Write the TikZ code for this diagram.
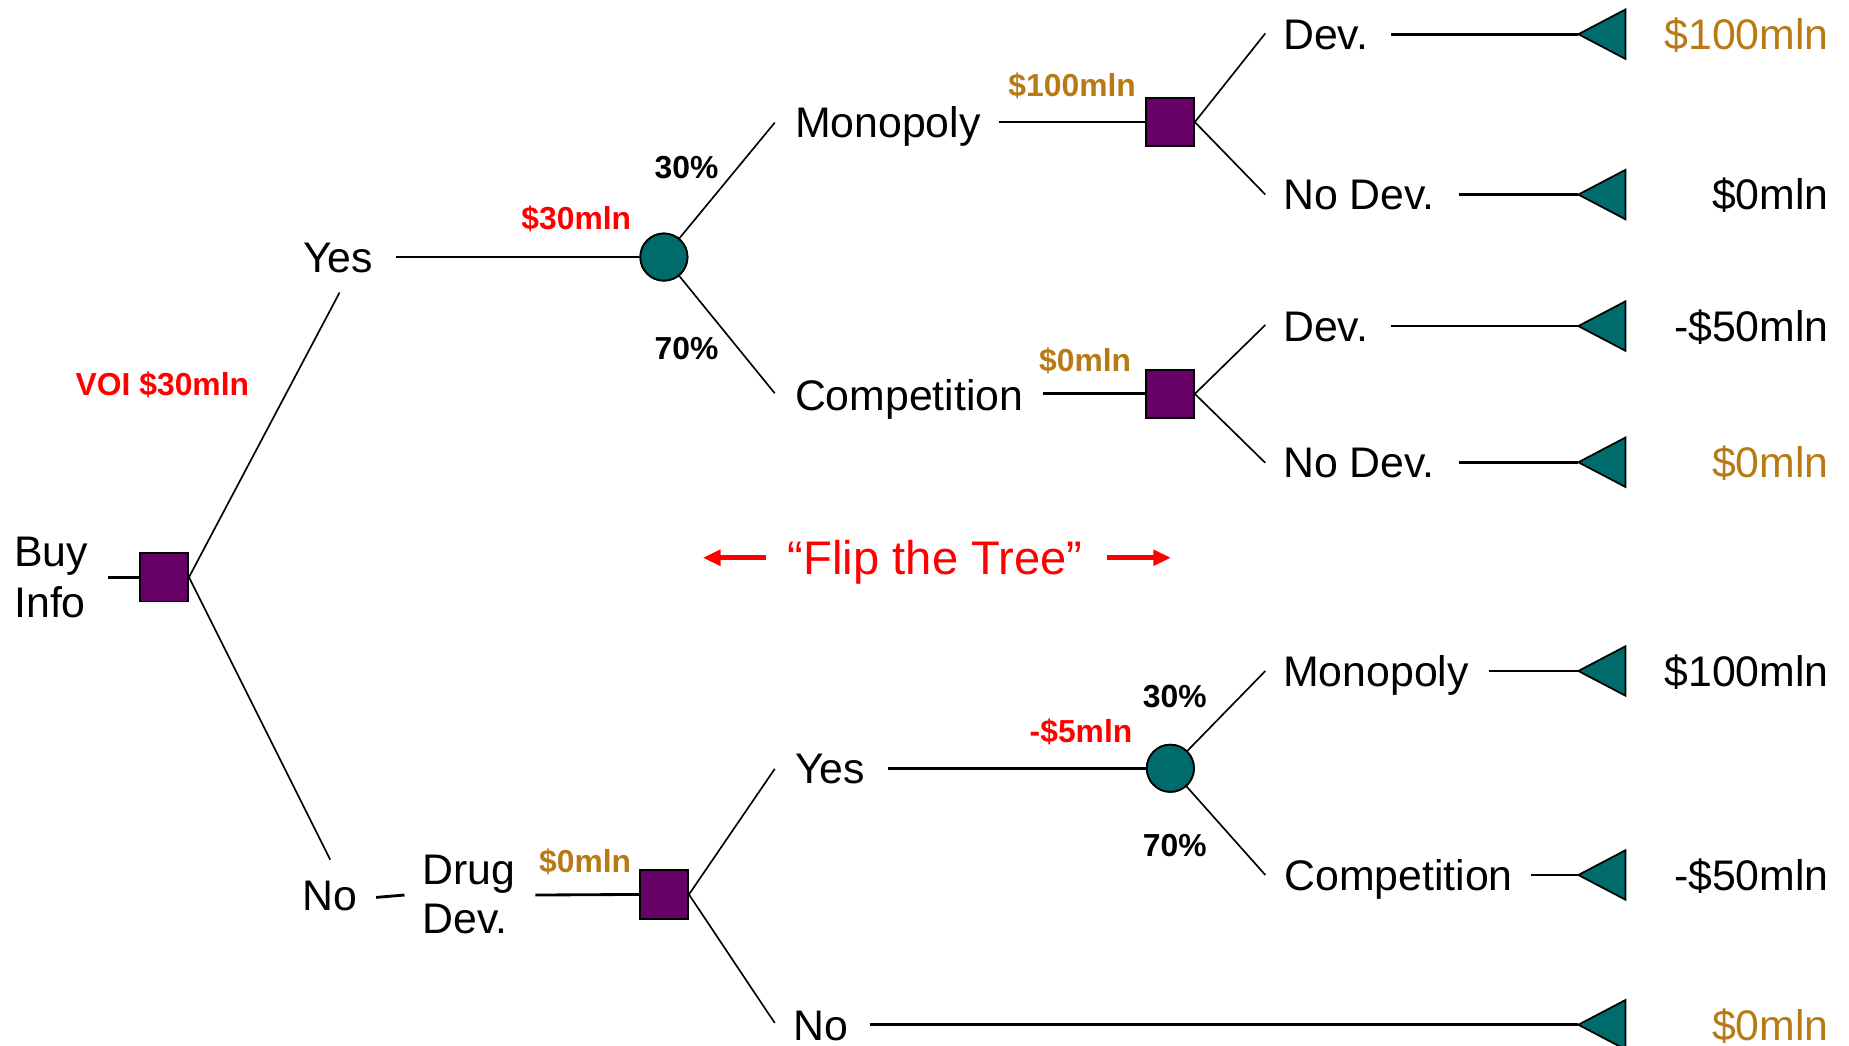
\documentclass[tikz,border=0pt]{standalone}
\usepackage{fontspec}
\setmainfont{Liberation Sans}
\usetikzlibrary{arrows.meta}
\definecolor{decfill}{HTML}{660066}
\definecolor{chfill}{HTML}{006B6B}
\definecolor{goldc}{HTML}{B87A14}
\definecolor{redc}{HTML}{FF0000}
\tikzset{
  dec/.style={draw=black,line width=1.5pt,fill=decfill,rectangle,minimum size=41pt,inner sep=0pt},
  chance/.style={draw=black,line width=1.5pt,fill=chfill,circle,minimum size=40pt,inner sep=0pt},
  term/.style={draw=black,line width=1.5pt,fill=chfill},
  hline/.style={draw=black,line width=2.4pt},
  dline/.style={draw=black,line width=1.4pt},
  lbl/.style={inner sep=0pt,anchor=base west,font=\fontsize{36.3}{40}\selectfont},
  val/.style={inner sep=0pt,anchor=base east,font=\fontsize{36.3}{40}\selectfont},
  blbl/.style={inner sep=0pt,anchor=base west,font=\fontsize{27}{30}\selectfont\bfseries},
  fliparrow/.style={draw=redc,line width=4pt,-{Triangle[length=15pt,width=13pt]}}
}
\begin{document}
\begin{tikzpicture}[x=1pt,y=-1pt]
\useasboundingbox (0,0) rectangle (1568,887);

% decision and chance nodes
\node[dec] (d1) at (139,489.5) {};
\node[chance] (c1) at (563,218) {};
\node[dec] (d2) at (992,103.5) {};
\node[dec] (d3) at (992,334) {};
\node[dec] (d4) at (563,758.5) {};
\node[chance] (c2) at (992.5,651.5) {};

% terminal tips
\coordinate (t1) at (1338.5,29);
\coordinate (t2) at (1338.5,165);
\coordinate (t3) at (1338.5,276.5);
\coordinate (t4) at (1338.5,392);
\coordinate (t5) at (1338.5,569);
\coordinate (t6) at (1338.5,742);
\coordinate (t7) at (1338.5,869);

% text labels
\node[lbl] (buy) at (12,480) {Buy};
\node[lbl] (info) at (12,524) {Info};
\node[lbl] (yes1) at (257,231) {Yes};
\node[lbl] (no1) at (256,772) {No};
\node[lbl] (drug) at (358,750) {Drug};
\node[lbl] (drugdev) at (358,792) {Dev.};
\node[lbl] (mono1) at (674,117) {Monopoly};
\node[lbl] (comp1) at (674,348) {Competition};
\node[lbl] (yes2) at (674,664) {Yes};
\node[lbl] (no2) at (673,882) {No};
\node[lbl] (dev1) at (1088,42) {Dev.};
\node[lbl] (nodev1) at (1088,178) {No Dev.};
\node[lbl] (dev2) at (1088,289.5) {Dev.};
\node[lbl] (nodev2) at (1088,405) {No Dev.};
\node[lbl] (mono2) at (1088,582) {Monopoly};
\node[lbl] (comp2) at (1089,755) {Competition};

% payoffs
\node[val,text=goldc] (v1) at (1551,42) {\$100mln};
\node[val] (v2) at (1551,178) {\$0mln};
\node[val] (v3) at (1551,289.5) {-\$50mln};
\node[val,text=goldc] (v4) at (1551,405) {\$0mln};
\node[val] (v5) at (1551,582) {\$100mln};
\node[val] (v6) at (1551,755) {-\$50mln};
\node[val,text=goldc] (v7) at (1551,882) {\$0mln};

% bold labels
\node[blbl,text=redc] (voi) at (64,335) {VOI \$30mln};
\node[blbl,text=redc] (ev1) at (442,194.5) {\$30mln};
\node[blbl] (p1) at (555,151) {30\%};
\node[blbl] (p2) at (555,305) {70\%};
\node[blbl,text=goldc] (ev2) at (855,82) {\$100mln};
\node[blbl,text=goldc] (ev3) at (881,315) {\$0mln};
\node[blbl,text=goldc] (ev4) at (457,740) {\$0mln};
\node[blbl,text=redc] (ev5) at (873,630) {-\$5mln};
\node[blbl] (p3) at (969,600) {30\%};
\node[blbl] (p4) at (969,726) {70\%};

% flip the tree
\node[inner sep=0pt,anchor=base,font=\fontsize{40}{44}\selectfont,text=redc] (flip) at (793,487.5) {“Flip the Tree”};
\coordinate (fl1) at (650,473);
\coordinate (fl2) at (596,473);
\coordinate (fr1) at (939,473);
\coordinate (fr2) at (993,473);
\draw[fliparrow] (fl1) -- (fl2);
\draw[fliparrow] (fr1) -- (fr2);

% branch end / start coordinates
\coordinate (s0) at (92,489.5);
\coordinate (b1) at (288,248);
\coordinate (b2) at (280,729);
\coordinate (s1) at (336,218);
\coordinate (b3) at (657,104);
\coordinate (b4) at (657,333.5);
\coordinate (s2) at (847,103.5);
\coordinate (s3) at (884.5,334);
\coordinate (b5) at (1073,28.3);
\coordinate (b6) at (1073,165);
\coordinate (b7) at (1073,275.6);
\coordinate (b8) at (1073,392.5);
\coordinate (s4) at (1180,29);
\coordinate (s5) at (1237,165);
\coordinate (s6) at (1180,276.5);
\coordinate (s7) at (1237,392);
\coordinate (s8a) at (319,761);
\coordinate (s8b) at (343,759);
\coordinate (s9) at (454,759);
\coordinate (b9) at (657,652);
\coordinate (b10) at (657,867.5);
\coordinate (s10) at (753,651.5);
\coordinate (s11) at (738,869);
\coordinate (b11) at (1073,569);
\coordinate (b12) at (1073,742);
\coordinate (s12) at (1263,569);
\coordinate (s13) at (1298.5,742);

% horizontal connectors
\draw[hline] (s0) -- (d1.west);
\draw[hline] (s1) -- (c1.west);
\draw[hline] (s2) -- (d2.west);
\draw[hline] (s3) -- (d3.west);
\draw[hline] (s4) -- (t1);
\draw[hline] (s5) -- (t2);
\draw[hline] (s6) -- (t3);
\draw[hline] (s7) -- (t4);
\draw[hline] (s8a) -- (s8b);
\draw[hline] (s9) -- (d4.west);
\draw[hline] (s10) -- (c2.west);
\draw[hline] (s11) -- (t7);
\draw[hline] (s12) -- (t5);
\draw[hline] (s13) -- (t6);

% diagonal branches
\draw[dline] (d1.east) -- (b1);
\draw[dline] (d1.east) -- (b2);
\draw[dline] (c1) -- (b3);
\draw[dline] (c1) -- (b4);
\draw[dline] (d2.east) -- (b5);
\draw[dline] (d2.east) -- (b6);
\draw[dline] (d3.east) -- (b7);
\draw[dline] (d3.east) -- (b8);
\draw[dline] (d4.east) -- (b9);
\draw[dline] (d4.east) -- (b10);
\draw[dline] (c2) -- (b11);
\draw[dline] (c2) -- (b12);

% terminal triangles
\foreach \t in {t1,t2,t3,t4,t5,t6,t7}{
  \filldraw[term] (\t) -- ++(40,-21) -- ++(0,42) -- cycle;
}
% redraw shapes on top of lines
\node[dec] at (d1) {};
\node[dec] at (d2) {};
\node[dec] at (d3) {};
\node[dec] at (d4) {};
\node[chance] at (c1) {};
\node[chance] at (c2) {};
\end{tikzpicture}
\end{document}
